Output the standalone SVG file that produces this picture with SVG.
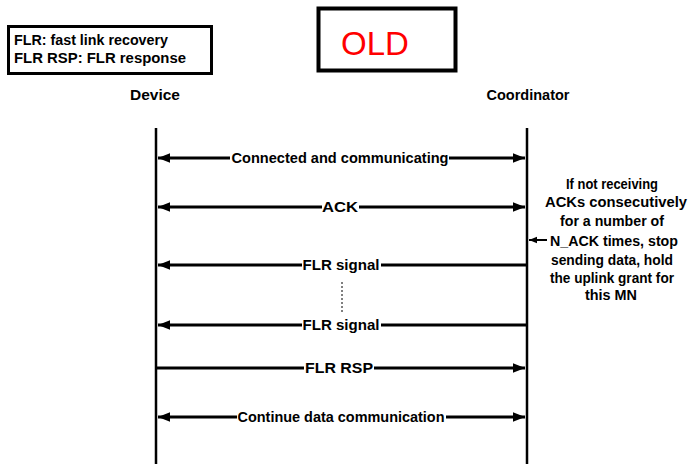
<svg xmlns="http://www.w3.org/2000/svg" width="688" height="464" viewBox="0 0 688 464">
<defs>
<marker id="ah" viewBox="0 0 10 10" refX="10" refY="5" markerWidth="4" markerHeight="4" orient="auto-start-reverse" markerUnits="strokeWidth">
<path d="M0,1 L10,5 L0,9 z" fill="#000"/>
</marker>
</defs>
<style>
text{font-family:"Liberation Sans",Arial,sans-serif;fill:#000;}
.lbl{font-size:15px;text-anchor:middle;font-weight:bold;}
.msg{stroke:#000;stroke-width:3;fill:none;}
.life{stroke:#000;stroke-width:2.5;fill:none;}
.bg{fill:#fff;}
.note{font-size:15px;text-anchor:middle;font-weight:bold;}
.leg{font-size:14px;font-weight:bold;}
</style>
<rect width="688" height="464" fill="#fff"/>
<g id="legend">
<rect x="8.5" y="26.5" width="203" height="47" fill="#fff" stroke="#000" stroke-width="3"/>
<text class="leg" x="14" y="45" textLength="154" lengthAdjust="spacingAndGlyphs">FLR: fast link recovery</text>
<text class="leg" x="14" y="63" textLength="172" lengthAdjust="spacingAndGlyphs">FLR RSP: FLR response</text>
</g>
<g id="old">
<rect x="318.5" y="8.5" width="137" height="62" fill="#fff" stroke="#000" stroke-width="4"/>
<text x="375" y="55" font-size="33" text-anchor="middle" style="fill:#ff0000">OLD</text>
</g>
<g id="device">
<text class="lbl" x="155" y="100" textLength="50" lengthAdjust="spacingAndGlyphs">Device</text>
<line class="life" x1="156" y1="128" x2="156" y2="464"/>
</g>
<g id="coordinator">
<text class="lbl" x="528" y="100" textLength="83" lengthAdjust="spacingAndGlyphs">Coordinator</text>
<line class="life" x1="527" y1="128" x2="527" y2="464"/>
</g>
<g id="note">
<text class="note" x="612" y="189" textLength="92" lengthAdjust="spacingAndGlyphs">If not receiving</text>
<text class="note" x="616" y="207" textLength="142" lengthAdjust="spacingAndGlyphs">ACKs consecutively</text>
<text class="note" x="612" y="226" textLength="104" lengthAdjust="spacingAndGlyphs">for a number of</text>
<text class="note" x="614" y="246" textLength="128" lengthAdjust="spacingAndGlyphs">N_ACK times, stop</text>
<text class="note" x="612" y="265" textLength="122" lengthAdjust="spacingAndGlyphs">sending data, hold</text>
<text class="note" x="612" y="283" textLength="124" lengthAdjust="spacingAndGlyphs">the uplink grant for</text>
<text class="note" x="611" y="300" textLength="52" lengthAdjust="spacingAndGlyphs">this MN</text>
</g>
<g id="connectors">
<line class="msg" x1="158" y1="158" x2="525" y2="158" marker-start="url(#ah)" marker-end="url(#ah)"/>
<line class="msg" x1="158" y1="207" x2="525" y2="207" marker-start="url(#ah)" marker-end="url(#ah)"/>
<line class="msg" x1="527" y1="265" x2="158" y2="265" marker-end="url(#ah)"/>
<line x1="342" y1="282" x2="342" y2="312" stroke="#000" stroke-width="1" stroke-dasharray="2,2"/>
<line class="msg" x1="527" y1="325" x2="158" y2="325" marker-end="url(#ah)"/>
<line class="msg" x1="156" y1="368" x2="525" y2="368" marker-end="url(#ah)"/>
<line class="msg" x1="158" y1="417" x2="525" y2="417" marker-start="url(#ah)" marker-end="url(#ah)"/>
<line x1="547" y1="240" x2="529" y2="240" stroke="#000" stroke-width="2" marker-end="url(#ah)"/>
<rect class="bg" x="230" y="150" width="219" height="16"/>
<text class="lbl" x="340" y="163" textLength="217" lengthAdjust="spacingAndGlyphs">Connected and communicating</text>
<rect class="bg" x="322" y="199" width="37" height="16"/>
<text class="lbl" x="340" y="212" textLength="36" lengthAdjust="spacingAndGlyphs">ACK</text>
<rect class="bg" x="302" y="257" width="79" height="16"/>
<text class="lbl" x="341" y="270" textLength="77" lengthAdjust="spacingAndGlyphs">FLR signal</text>
<rect class="bg" x="302" y="317" width="79" height="16"/>
<text class="lbl" x="341" y="330" textLength="77" lengthAdjust="spacingAndGlyphs">FLR signal</text>
<rect class="bg" x="304" y="360" width="70" height="16"/>
<text class="lbl" x="339" y="373" textLength="68" lengthAdjust="spacingAndGlyphs">FLR RSP</text>
<rect class="bg" x="237" y="409" width="209" height="16"/>
<text class="lbl" x="341" y="422" textLength="207" lengthAdjust="spacingAndGlyphs">Continue data communication</text>
</g>
</svg>
